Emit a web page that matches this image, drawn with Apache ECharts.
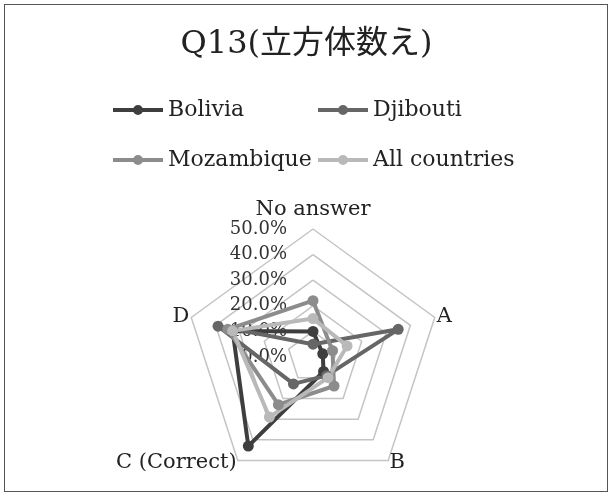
<!DOCTYPE html>
<html>
<head>
<meta charset="utf-8">
<script src="https://cdn.jsdelivr.net/npm/echarts@6/dist/echarts.min.js"></script>
<style>
  html, body { margin: 0; padding: 0; background: #fff; }
  #frame { position: absolute; left: 4px; top: 4px; width: 604px; height: 488px; border: 1px solid #555; box-sizing: border-box; }
  #chart { position: absolute; left: 0; top: 0; width: 613px; height: 497px; }
</style>
</head>
<body>
<div id="frame"></div>
<div id="chart"></div>
<script>
// Answer categories, listed clockwise from the top spoke
const categories = ['No answer', 'A', 'B', 'C (Correct)', 'D'];
const tickValues = [0, 10, 20, 30, 40, 50];

// Share of answers (%) per category, same order as categories
const bolivia      = [10, 4, 7, 43, 33];
const djibouti     = [5, 35, 9, 13, 39];
const mozambique   = [22, 8, 14, 23, 35];
const allCountries = [15, 14, 10, 29, 33];

const seriesNames  = ['Bolivia', 'Djibouti', 'Mozambique', 'All countries'];
const seriesValues = [bolivia, djibouti, mozambique, allCountries];
const seriesColors = ['#3e3e3e', '#666666', '#8c8c8c', '#b9b9b9'];

const serif = '"DejaVu Serif", "Liberation Serif", "Noto Sans CJK JP", serif';

// ECharts lays radar spokes counter-clockwise; reverse all but the first
function clockwise(arr) { return [arr[0]].concat(arr.slice(1).reverse()); }

const indicators = clockwise(categories).map((name, i) => ({
  name: name,
  min: tickValues[0],
  max: tickValues[tickValues.length - 1],
  axisLabel: { show: i === 0 }
}));

// Legend glyph: a thick line with a dot in the middle
const legendIcon = 'path://M0,-2L50,-2L50,2L0,2Z M30,0A5,5 0 1,1 20,0A5,5 0 1,1 30,0Z';
const legendPos = [[108, 94], [313, 94], [108, 144], [313, 144]];

const chart = echarts.init(document.getElementById('chart'), null, { renderer: 'canvas' });
chart.setOption({
  animation: false,
  title: {
    text: 'Q13(立方体数え)',
    left: 'center',
    top: 24,
    textStyle: { fontFamily: serif, fontSize: 32, fontWeight: 'normal', color: '#222' }
  },
  legend: seriesNames.map((n, i) => ({
    data: [n],
    left: legendPos[i][0],
    top: legendPos[i][1],
    icon: legendIcon,
    itemWidth: 50,
    itemHeight: 10,
    itemGap: 4,
    textStyle: { fontFamily: serif, fontSize: 22, color: '#222' }
  })),
  radar: {
    center: [313, 357],
    radius: 128,
    startAngle: 90,
    shape: 'polygon',
    splitNumber: tickValues.length - 1,
    indicator: indicators,
    axisName: { fontFamily: serif, fontSize: 21, color: '#222', padding: [4, 0, 0, 0] },
    nameGap: 2,
    splitLine: { lineStyle: { color: '#c4c4c4', width: 1.5 } },
    splitArea: { show: false },
    axisLine: { show: false },
    axisTick: { show: false },
    axisLabel: {
      fontFamily: serif,
      fontSize: 18,
      color: '#333',
      margin: 26,
      formatter: v => v.toFixed(1) + '%'
    }
  },
  series: [{
    type: 'radar',
    symbol: 'circle',
    symbolSize: 11,
    data: seriesNames.map((n, i) => ({
      name: n,
      value: clockwise(seriesValues[i]),
      itemStyle: { color: seriesColors[i] },
      lineStyle: { color: seriesColors[i], width: 4 }
    }))
  }],
  color: seriesColors
});
</script>
</body>
</html>
